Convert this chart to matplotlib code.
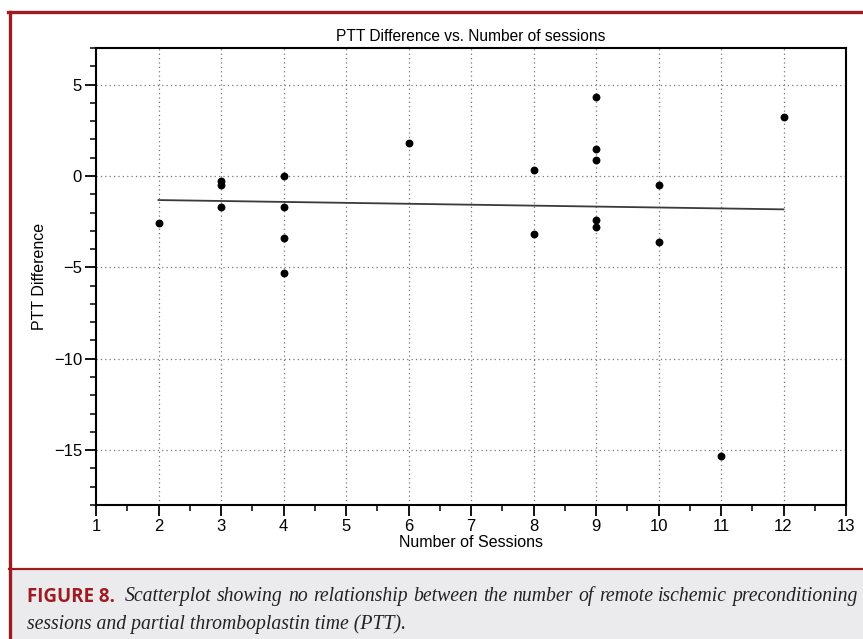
import numpy as np
import matplotlib
matplotlib.use("Agg")
import matplotlib.pyplot as plt
from matplotlib.lines import Line2D
from matplotlib.patches import Rectangle
from matplotlib.ticker import MultipleLocator

W, H = 863, 639
RED = "#9e1b22"; BAND = "#ebebee"

sessions = [2, 3, 3, 3, 4, 4, 4, 4, 6, 8, 8, 9, 9, 9, 9, 9, 10, 10, 11, 12]
ptt_diff = [-2.6, -0.3, -0.5, -1.7, 0.0, -1.7, -3.4, -5.3, 1.8, 0.3, -3.2,
            4.3, 1.5, 0.9, -2.4, -2.8, -0.5, -3.6, -15.3, 3.2]
xticks = list(range(1, 14))
yticks = [-15, -10, -5, 0, 5]

caption_head = "FIGURE 8."
caption_l1 = "Scatterplot showing no relationship between the number of remote ischemic preconditioning"
caption_l2 = "sessions and partial thromboplastin time (PTT)."

def fx(x): return x / W
def fy(y): return 1 - y / H

plt.rcParams["font.family"] = ["Liberation Sans", "DejaVu Sans"]
fig = plt.figure(figsize=(W/100, H/100), dpi=100)

# caption band + red frame
fig.add_artist(Rectangle((fx(11), 0), 1, fy(570), transform=fig.transFigure,
                         fc=BAND, ec="none", zorder=0))
fig.add_artist(Line2D([fx(8), 1], [fy(11.5), fy(11.5)], transform=fig.transFigure, color=RED, lw=2.4))
fig.add_artist(Line2D([fx(9.5), fx(9.5)], [fy(12), 0], transform=fig.transFigure, color=RED, lw=2.4))
fig.add_artist(Line2D([fx(9), 1], [fy(569), fy(569)], transform=fig.transFigure, color=RED, lw=1.6))

ax = fig.add_axes([fx(96), fy(505), fx(846) - fx(96), fy(48) - fy(505)])
ax.scatter(sessions, ptt_diff, s=32, color="black", zorder=3, linewidths=0)
slope, icpt = np.polyfit(sessions, ptt_diff, 1)
xl = np.array([min(sessions), max(sessions)])
ax.plot(xl, slope*xl + icpt, color="#3a3a3a", lw=1.3, zorder=2)

ax.set_xlim(1, 13); ax.set_ylim(-18, 7)
ax.set_xticks(xticks); ax.set_yticks(yticks)
ax.set_yticklabels([str(v).replace("-", "\u2212") for v in yticks])
ax.xaxis.set_minor_locator(MultipleLocator(0.5))
ax.yaxis.set_minor_locator(MultipleLocator(1))
ax.tick_params(which="major", length=8, width=1.3, labelsize=12, pad=2)
ax.tick_params(which="minor", length=4, width=1.1)
ax.grid(True, which="major", ls=(0, (1, 2.5)), color="#777777", lw=0.9)
for s in ax.spines.values():
    s.set_linewidth(1.5)
ax.set_title("PTT Difference vs. Number of sessions", fontsize=11.2, pad=5)
ax.set_xlabel("Number of Sessions", fontsize=11.5, labelpad=1)
ax.set_ylabel("PTT Difference", fontsize=11.5, labelpad=5)

# caption, first line justified
renderer = fig.canvas.get_renderer()
ser = dict(family=["Liberation Serif", "DejaVu Serif"], style="italic", fontsize=14.2, color="#222222")
head = fig.text(fx(27), fy(594), caption_head, fontsize=13.5, weight="bold", color=RED,
                family=["Open Sans", "DejaVu Sans"], va="center_baseline")
words = [fig.text(0, fy(594), w, va="center_baseline", **ser) for w in caption_l1.split()]
hw = head.get_window_extent(renderer).width
ws = [t.get_window_extent(renderer).width for t in words]
left, right = 27, 858
start = left + hw + 10
gap = (right - start - sum(ws)) / (len(ws) - 1)
x = start
for t, w in zip(words, ws):
    t.set_x(fx(x)); x += w + gap
fig.text(fx(27), fy(622), caption_l2, va="center_baseline", **ser)

fig.savefig("out.png", dpi=100)
